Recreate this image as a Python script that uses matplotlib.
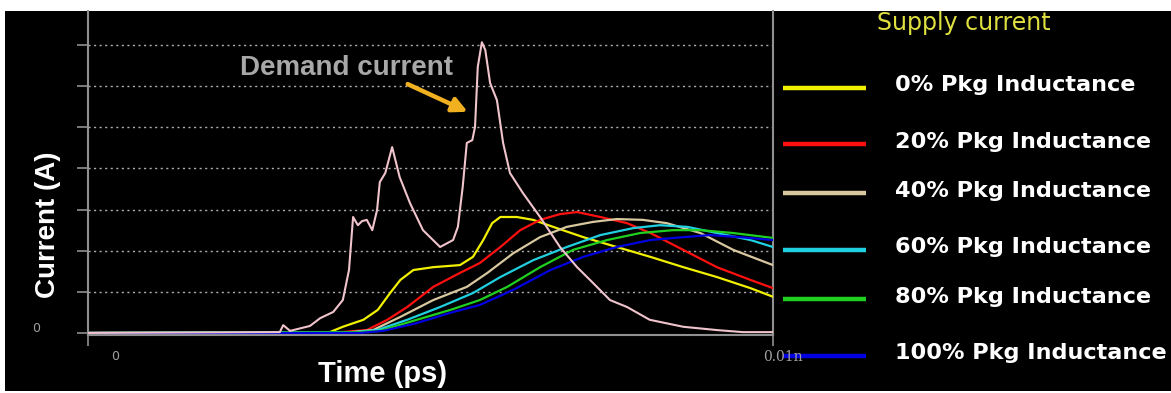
import numpy as np
import matplotlib
matplotlib.use("Agg")
import matplotlib.pyplot as plt
from matplotlib.lines import Line2D
from matplotlib.patches import Rectangle

W, H = 1171, 393

# demand current (pink)
t_demand = [0, 28.0, 28.5, 29.5, 32.4, 33.9, 35.8, 37.2, 38.1, 38.7, 39.4, 40.0, 40.7, 41.5,
            42.2, 42.6, 43.4, 44.4, 45.5, 47.0, 48.9, 51.4, 53.3, 54.0, 54.7, 55.3, 56.1,
            56.5, 56.9, 57.5, 58.0, 58.7, 59.7, 60.6, 61.6, 63.5, 66.0, 68.9, 71.4, 73.7,
            76.2, 78.7, 82.0, 86.9, 91.8, 95.6, 100]
i_demand = [0, 0.02, 0.19, 0.05, 0.17, 0.36, 0.51, 0.80, 1.53, 2.82, 2.62, 2.72, 2.75, 2.50,
            2.99, 3.67, 3.89, 4.52, 3.79, 3.16, 2.50, 2.09, 2.26, 2.58, 3.55, 4.62, 4.69,
            5.01, 6.47, 7.07, 6.88, 6.08, 5.66, 4.62, 3.89, 3.40, 2.82, 2.09, 1.60, 1.22,
            0.80, 0.63, 0.32, 0.15, 0.07, 0.02, 0.02]

# supply current, one series per package inductance
t_0 = [0, 35.3, 37.2, 40.2, 42.3, 44.1, 45.6, 47.5, 50.4, 54.3, 56.2, 57.7, 59.0, 60.2, 62.6,
       65.0, 67.9, 72.3, 77.2, 82.1, 86.9, 91.8, 96.7, 100]
i_0 = [0, 0.02, 0.15, 0.32, 0.56, 0.97, 1.29, 1.53, 1.60, 1.65, 1.85, 2.26, 2.67, 2.82, 2.82,
       2.75, 2.58, 2.33, 2.09, 1.85, 1.60, 1.36, 1.09, 0.88]

t_20 = [0, 36.8, 40.7, 43.7, 46.6, 50.4, 54.3, 57.2, 60.2, 63.1, 66.0, 68.9, 71.4, 74.8,
        78.7, 82.1, 86.9, 91.8, 96.7, 100]
i_20 = [0, 0.02, 0.07, 0.32, 0.63, 1.12, 1.46, 1.70, 2.09, 2.50, 2.75, 2.89, 2.94, 2.82,
        2.67, 2.43, 2.02, 1.60, 1.29, 1.09]

t_40 = [0, 38.3, 41.6, 45.6, 50.4, 55.3, 58.3, 62.1, 66.0, 69.9, 73.7, 77.2, 81.0, 84.5,
        89.4, 94.2, 100]
i_40 = [0, 0.02, 0.07, 0.39, 0.80, 1.12, 1.46, 1.94, 2.33, 2.58, 2.70, 2.77, 2.75, 2.67,
        2.43, 2.02, 1.65]

t_60 = [0, 39.0, 42.2, 46.6, 51.4, 56.2, 60.2, 65.0, 69.9, 74.8, 79.6, 83.5, 87.5, 91.8,
        96.7, 100]
i_60 = [0, 0.02, 0.07, 0.32, 0.63, 0.97, 1.36, 1.77, 2.09, 2.38, 2.55, 2.62, 2.58, 2.43,
        2.26, 2.09]

t_80 = [0, 39.7, 42.6, 48.0, 52.9, 57.2, 61.2, 66.0, 70.8, 75.8, 80.6, 85.4, 89.4, 94.2, 100]
i_80 = [0, 0.02, 0.05, 0.32, 0.56, 0.80, 1.12, 1.60, 2.02, 2.26, 2.43, 2.50, 2.50, 2.43, 2.31]

t_100 = [0, 39.7, 43.1, 48.0, 52.9, 57.2, 62.1, 67.5, 72.3, 77.2, 82.1, 86.9, 90.8, 95.2, 100]
i_100 = [0, 0.0, 0.05, 0.24, 0.49, 0.68, 1.05, 1.53, 1.85, 2.09, 2.26, 2.33, 2.38, 2.33, 2.26]

labels = ["0% Pkg Inductance", "20% Pkg Inductance", "40% Pkg Inductance",
          "60% Pkg Inductance", "80% Pkg Inductance", "100% Pkg Inductance"]
colors = ["#f0f000", "#ff1010", "#d8c8a0", "#20d0e0", "#20d020", "#0000e0"]
series = [(t_0, i_0), (t_20, i_20), (t_40, i_40), (t_60, i_60), (t_80, i_80), (t_100, i_100)]


def fx(x):
    return x / W


def fy(y):
    return 1 - y / H


fig = plt.figure(figsize=(W / 100, H / 100), dpi=100, facecolor="white")
# black panel inside a thin white border
fig.patches.append(Rectangle((fx(5), fy(391)), fx(1166), 380 / H, transform=fig.transFigure,
                             facecolor="black", edgecolor="none", zorder=-10))

ax = fig.add_axes([fx(88), fy(335), fx(773 - 88), (335 - 11) / H])
ax.set_facecolor("black")
ax.set_xlim(0, 100)
ax.set_ylim(-0.05, 7.83)

for y in range(1, 8):
    ax.axhline(y, color="#b0b0b0", lw=1, ls=(0, (1.5, 2.5)), zorder=1)

for (t, i), c in zip(series, colors):
    ax.plot(t, i, color=c, lw=1.6, zorder=3)
ax.plot(t_demand, i_demand, color="#f0c4cc", lw=1.5, zorder=4)

for s in ["left", "bottom", "right"]:
    ax.spines[s].set_color("#909090")
    ax.spines[s].set_linewidth(1.5)
ax.spines["top"].set_visible(False)

ax.set_yticks(range(8))
ax.set_yticklabels([])
ax.tick_params(axis="y", colors="#909090", length=8, width=1.2)
ax.set_xticks([0, 100])
ax.set_xticklabels([])
ax.tick_params(axis="x", colors="#909090", length=8, width=1.2)

ax.text(-0.076, 0.12, "0", transform=ax.get_yaxis_transform(), color="#a0a0a0",
        fontsize=9, ha="center", va="center")
fig.text(fx(115), fy(357), "0", color="#a0a0a0", fontsize=9, ha="center", va="center")
fig.text(fx(763), fy(357), "0.01n", color="#a0a0a0", fontsize=10, family="DejaVu Serif",
         ha="left", va="center")

ax.annotate("", xy=(55.8, 5.35), xytext=(46.3, 6.08),
            arrowprops=dict(arrowstyle="-|>", lw=3.2, color="#f0b020", mutation_scale=22))
fig.text(fx(240), fy(68), "Demand current", color="#a8a8a8", fontsize=20,
         family="Liberation Sans", weight="bold", ha="left", va="center")

fig.text(fx(48), fy(225), "Current (A)", color="white", fontsize=20, family="Liberation Sans",
         weight="bold", rotation=90, ha="center", va="center")
fig.text(fx(383), fy(374), "Time (ps)", color="white", fontsize=21, family="Liberation Sans",
         weight="bold", ha="center", va="center")

fig.text(fx(877), fy(23), "Supply current", color="#e0e040", fontsize=17, ha="left", va="center")
line_y = [88, 144, 193, 250, 299, 356]
text_y = [85, 142, 191, 247, 297, 353]
for lab, c, ly, ty in zip(labels, colors, line_y, text_y):
    fig.lines.append(Line2D([fx(783), fx(866)], [fy(ly), fy(ly)], transform=fig.transFigure,
                            color=c, lw=3.2, solid_capstyle="butt"))
    fig.text(fx(895), fy(ty), lab, color="white", fontsize=16.1, weight="bold",
             ha="left", va="center")

fig.savefig("out.png", dpi=100, facecolor="white")
